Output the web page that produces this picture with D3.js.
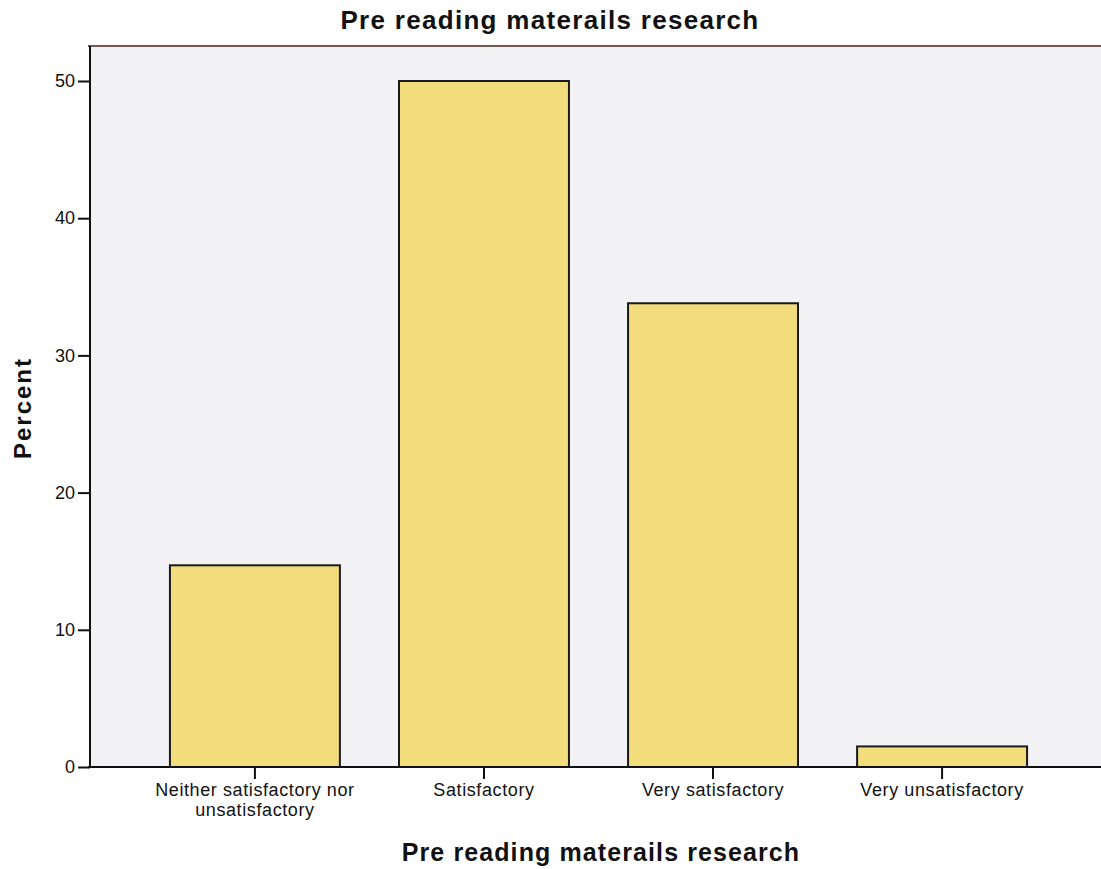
<!DOCTYPE html>
<html>
<head>
<meta charset="utf-8">
<script src="https://cdn.jsdelivr.net/npm/d3@7"></script>
<style>
  html, body { margin: 0; padding: 0; background: #ffffff; }
  svg { display: block; }
  text { font-family: "Liberation Sans", Arial, sans-serif; fill: #111; }
</style>
</head>
<body>
<div id="chart"></div>
<script>
const categories = ["Neither satisfactory nor unsatisfactory", "Satisfactory", "Very satisfactory", "Very unsatisfactory"];
const categoryLines = [["Neither satisfactory nor", "unsatisfactory"], ["Satisfactory"], ["Very satisfactory"], ["Very unsatisfactory"]];
const percentValues = [14.7, 50.0, 33.8, 1.5];
const yTickValues = [0, 10, 20, 30, 40, 50];
const chartTitle = "Pre reading materails research";
const xTitle = "Pre reading materails research";
const yTitle = "Percent";

const W = 1101, H = 869;
const margin = { left: 90, top: 46, right: -6, bottom: 102 };

const svg = d3.select("#chart").append("svg").attr("width", W).attr("height", H);

const x = d3.scaleBand()
  .domain(categories)
  .range([margin.left, W - margin.right])
  .paddingInner(0.258)
  .paddingOuter(0.349);

const y = d3.scaleLinear()
  .domain([0, 50])
  .range([H - margin.bottom, 81]);

// plot background
svg.append("rect")
  .attr("x", margin.left).attr("y", margin.top)
  .attr("width", W - margin.right - margin.left)
  .attr("height", H - margin.bottom - margin.top)
  .attr("fill", "#f2f2f5");

// top frame line
svg.append("line")
  .attr("x1", margin.left - 2).attr("x2", W)
  .attr("y1", margin.top).attr("y2", margin.top)
  .attr("stroke", "#6e5a52").attr("stroke-width", 2);

// bars
svg.append("g").selectAll("rect")
  .data(categories)
  .join("rect")
  .attr("x", d => x(d))
  .attr("width", x.bandwidth())
  .attr("y", (d, i) => y(percentValues[i]))
  .attr("height", (d, i) => y(0) - y(percentValues[i]))
  .attr("fill", "#f3dc7c")
  .attr("stroke", "#1a1a1a")
  .attr("stroke-width", 2);

// y axis
const yAxis = svg.append("g")
  .attr("transform", `translate(${margin.left},0)`)
  .call(d3.axisLeft(y).tickValues(yTickValues).tickSize(12).tickSizeOuter(0).tickPadding(3));
yAxis.select(".domain").attr("stroke", "#111").attr("stroke-width", 2)
  .attr("d", `M0,${margin.top}V${y(0)}`);
yAxis.selectAll(".tick line").attr("stroke", "#111").attr("stroke-width", 2);
yAxis.selectAll(".tick text").style("font-size", "18px").style("font-family", "Liberation Sans, Arial, sans-serif").attr("fill", "#111");

// x axis
const xAxis = svg.append("g")
  .attr("transform", `translate(0,${y(0)})`)
  .call(d3.axisBottom(x).tickSize(12).tickSizeOuter(0).tickFormat(""));
xAxis.select(".domain").attr("stroke", "#111").attr("stroke-width", 2)
  .attr("d", `M${margin.left - 2},0H${W}`);
xAxis.selectAll(".tick line").attr("stroke", "#111").attr("stroke-width", 2);

// x tick labels (multi-line)
const lbl = svg.append("g").selectAll("text")
  .data(categories)
  .join("text")
  .attr("text-anchor", "middle")
  .attr("x", d => x(d) + x.bandwidth() / 2)
  .attr("y", y(0) + 29)
  .style("font-size", "18px")
  .style("letter-spacing", "0.6px");
lbl.each(function(d, i) {
  const t = d3.select(this);
  categoryLines[i].forEach((line, j) => {
    t.append("tspan").attr("x", x(d) + x.bandwidth() / 2).attr("dy", j === 0 ? 0 : 20).text(line);
  });
});

// title
svg.append("text")
  .attr("x", 550).attr("y", 29)
  .attr("text-anchor", "middle")
  .style("font-size", "26px").style("font-weight", "bold")
  .style("letter-spacing", "1.3px")
  .text(chartTitle);

// x title
svg.append("text")
  .attr("x", 601).attr("y", 861)
  .attr("text-anchor", "middle")
  .style("font-size", "25px").style("font-weight", "bold")
  .style("letter-spacing", "1.1px")
  .text(xTitle);

// y title
svg.append("text")
  .attr("transform", `translate(31,408) rotate(-90)`)
  .attr("text-anchor", "middle")
  .style("font-size", "24px").style("font-weight", "bold")
  .style("letter-spacing", "2px")
  .text(yTitle);
</script>
</body>
</html>
